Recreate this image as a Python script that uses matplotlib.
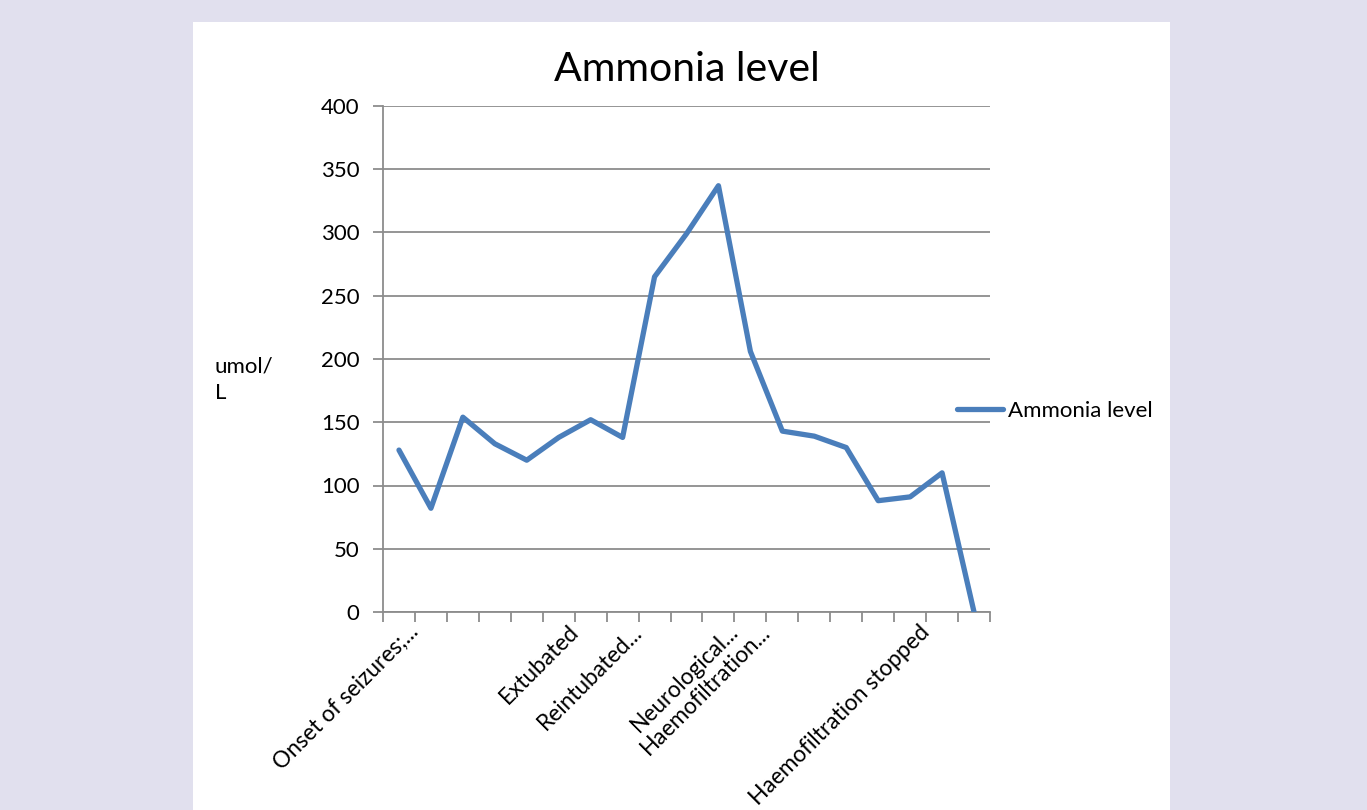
import matplotlib
matplotlib.use('Agg')
import matplotlib.pyplot as plt
import matplotlib.transforms as mtransforms
from matplotlib.patches import Rectangle
import numpy as np

matplotlib.rcParams.update({
    'font.family': ['Lato', 'DejaVu Sans'],
    'font.size': 16,
})

LINE = '#4A7EBB'
GRID = '#8C8C8C'
BG = '#E1E0EE'

ammonia = [128, 82, 154, 133, 120, 138, 152, 138, 265, 299, 337, 206,
           143, 139, 130, 88, 91, 110, 0]
events = ['Onset of seizures;...', '', '', '', '', 'Extubated', '', 'Reintubated...',
          '', '', 'Neurological...', 'Haemofiltration...', '', '', '', '',
          'Haemofiltration stopped', '', '']
yticks = [0, 50, 100, 150, 200, 250, 300, 350, 400]

fig = plt.figure(figsize=(13.67, 8.10), dpi=100)
fig.patch.set_facecolor(BG)
# white chart panel
fig.patches.append(Rectangle((193 / 1367, 0), 977 / 1367, 788 / 810,
                             transform=fig.transFigure, facecolor='white',
                             edgecolor='none', zorder=-5))

ax = fig.add_axes([383 / 1367, 1 - 612 / 810, 607 / 1367, 506 / 810])
ax.set_facecolor('white')

x = np.arange(len(ammonia))
ax.plot(x, ammonia, color=LINE, lw=3.8, solid_joinstyle='round',
        solid_capstyle='round', label='Ammonia level', zorder=3)

ax.set_xlim(-0.5, len(ammonia) - 0.5)
ax.set_ylim(0, 400)
ax.set_yticks(yticks)
ax.yaxis.grid(True, color=GRID, lw=1.3)
ax.set_axisbelow(True)

ax.set_xticks(np.arange(-0.5, len(ammonia)))
ax.set_xticklabels([])
ax.tick_params(axis='x', length=7, width=1.3, color=GRID)
ax.tick_params(axis='y', length=7, width=1.3, color=GRID, labelsize=16, pad=10)

for s in ['top', 'right']:
    ax.spines[s].set_visible(False)
for s in ['left', 'bottom']:
    ax.spines[s].set_color(GRID)
    ax.spines[s].set_linewidth(1.3)

offset = mtransforms.ScaledTranslation(9 / 100, -9 / 100, fig.dpi_scale_trans)
trans = mtransforms.blended_transform_factory(ax.transData, ax.transAxes) + offset
for i, lab in enumerate(events):
    if lab:
        ax.text(i, 0, lab, transform=trans, rotation=45, rotation_mode='anchor',
                ha='right', va='top', fontsize=16.3)

fig.text(215 / 1367, 1 - 380 / 810, 'umol/\nL', ha='left', va='center',
         fontsize=16, linespacing=1.4)

ax.set_title('Ammonia level', fontsize=29.5, pad=18)

ax.legend(loc='center left', bbox_to_anchor=(0.9456, 0.397), frameon=False,
          borderaxespad=0, borderpad=0, handlelength=2.07, handletextpad=0.22,
          fontsize=16)

fig.savefig('out.png', dpi=100, facecolor=BG)
